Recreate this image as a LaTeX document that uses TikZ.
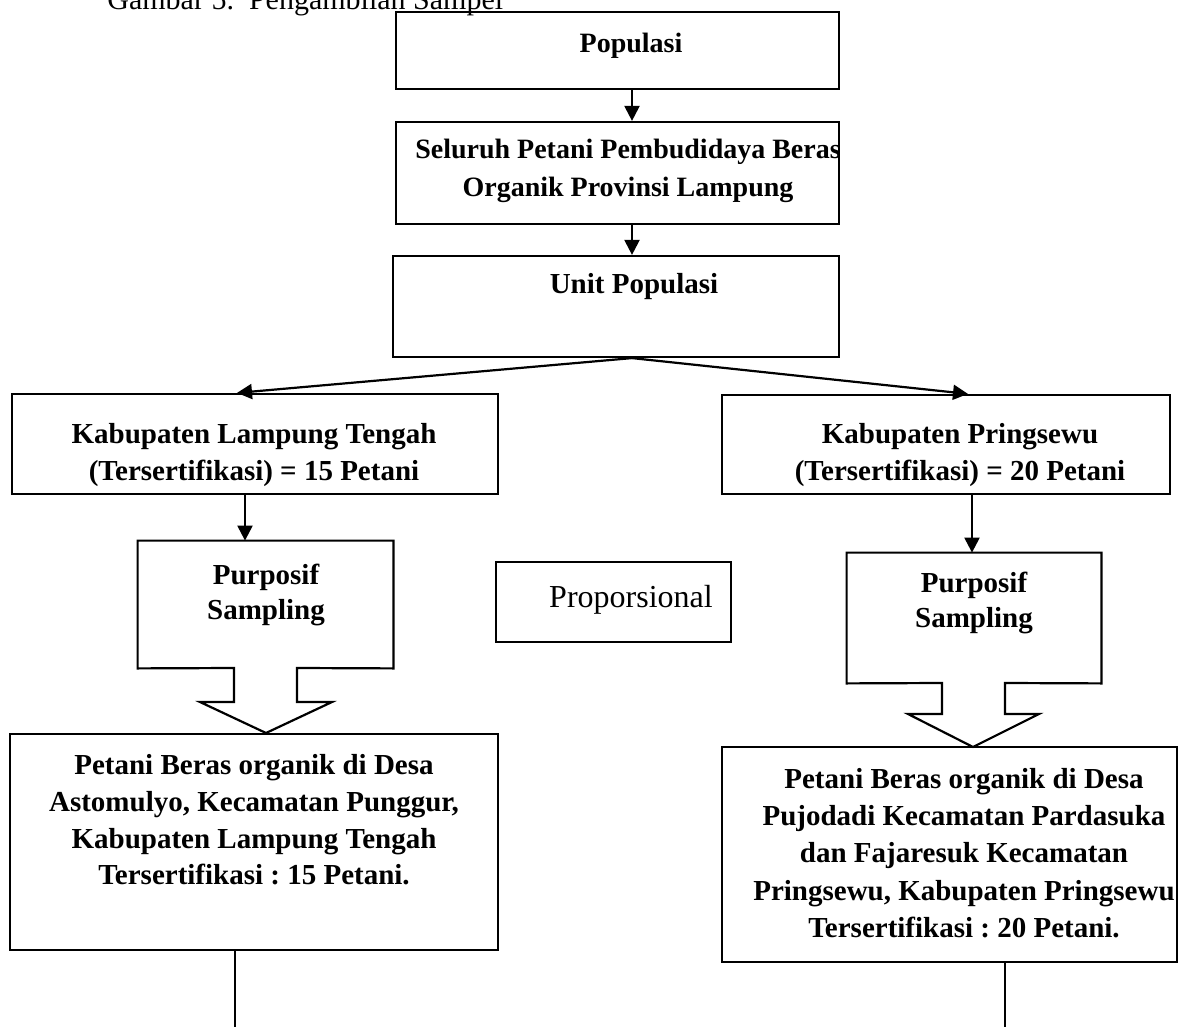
\documentclass[tikz,border=0pt]{standalone}
\usepackage{fontspec}
\setmainfont{Liberation Serif}
\usetikzlibrary{arrows.meta,positioning}
\frenchspacing

\tikzset{
  box/.style={draw, line width=1.1pt, inner sep=0pt},
  shade/.style={draw=none, inner sep=0pt},
  txt/.style={font=\fontsize{14.5}{18}\selectfont\bfseries, align=center, inner sep=0pt},
  arr/.style={line width=1.1pt, -{Triangle[length=7.5pt,width=7.5pt]}},
}

\begin{document}
\begin{tikzpicture}[x=0.5pt, y=-0.5pt]
\useasboundingbox (0,0) rectangle (1199,1027);
\clip (0,0) rectangle (1199,1027);

\coordinate (spine) at (632,0);
\coordinate (bot) at (0,1040);

% caption, cut at the top
\node[anchor=base west, inner sep=0pt, font=\fontsize{15}{18}\selectfont] (caption) at (107,10) {Gambar 5.\ \ Pengambilan Sampel};

% upper column
\node[box, minimum width=221.5pt, minimum height=38.5pt] (pop) at (617.5,50.5) {};
\node[txt, font=\fontsize{14}{18}\selectfont\bfseries] (pop-t) at (631,45.5) {Populasi};

\node[box, minimum width=221.5pt, minimum height=51pt] (seluruh) at (617.5,173) {};
\node[txt, font=\fontsize{14}{19}\selectfont\bfseries] (seluruh-t) at (628,171) {Seluruh Petani Pembudidaya Beras\\Organik Provinsi Lampung};

\node[box, minimum width=223pt, minimum height=50.5pt] (unit) at (616,306.5) {};
\node[txt] (unit-t) at (634,286.5) {Unit Populasi};

\draw[arr] (pop.south -| spine) -- (seluruh.north -| spine);
\draw[arr] (seluruh.south -| spine) -- (unit.north -| spine);

% kabupaten
\node[box, minimum width=243pt, minimum height=50pt] (kablt) at (255,444) {};
\node[txt, font=\fontsize{14.5}{18.5}\selectfont\bfseries] (kablt-t) at (254,455) {Kabupaten Lampung Tengah\\(Tersertifikasi) = 15 Petani};

\node[box, minimum width=224pt, minimum height=49.5pt] (kabps) at (946,444.5) {};
\node[txt, font=\fontsize{14.5}{18.5}\selectfont\bfseries] (kabps-t) at (960,455) {Kabupaten Pringsewu\\(Tersertifikasi) = 20 Petani};

\draw[arr] (unit.south -| spine) -- ([xshift=-9pt]kablt.north);
\draw[arr] (unit.south -| spine) -- ([xshift=11pt]kabps.north);

% purposif sampling
\node[shade, minimum width=127.5pt, minimum height=63.5pt] (purl) at (265.5,604.5) {};
\draw[line width=1.1pt, line join=miter] (purl.south west) -- (purl.north west) -- (purl.north east) -- (purl.south east)
  -- (297,668) -- (297,702) -- (332,702) -- (266,733) -- (200,702) -- (234,702) -- (234,668) -- cycle;
\node[txt, font=\fontsize{14.5}{17.5}\selectfont\bfseries] (purl-t) at (266,595) {Purposif\\Sampling};

\node[shade, minimum width=127pt, minimum height=65pt] (purr) at (974,618) {};
\draw[line width=1.1pt, line join=miter] (purr.south west) -- (purr.north west) -- (purr.north east) -- (purr.south east)
  -- (1005,683) -- (1005,714) -- (1039,714) -- (973,747) -- (908,714) -- (942,714) -- (942,683) -- cycle;
\node[txt, font=\fontsize{14.5}{17.5}\selectfont\bfseries] (purr-t) at (974,603) {Purposif\\Sampling};

\draw[arr] ([xshift=-5pt]kablt.south) -- ([xshift=-5pt]kablt.south |- purl.north);
\draw[arr] ([xshift=13pt]kabps.south) -- ([xshift=13pt]kabps.south |- purr.north);

\node[box, minimum width=117.5pt, minimum height=40pt] (prop) at (613.5,602) {};
\node[inner sep=0pt, font=\fontsize{16}{19}\selectfont] (prop-t) at (631,600) {Proporsional};

% desa
\node[box, minimum width=244pt, minimum height=108pt] (desal) at (254,842) {};
\node[txt, font=\fontsize{14.5}{18.3}\selectfont\bfseries] (desal-t) at (254,820) {Petani Beras organik di Desa\\Astomulyo, Kecamatan Punggur,\\Kabupaten Lampung Tengah\\Tersertifikasi : 15 Petani.};

\node[box, minimum width=227.5pt, minimum height=107.5pt] (desar) at (949.5,854.5) {};
\node[txt, font=\fontsize{14.5}{18.6}\selectfont\bfseries] (desar-t) at (964,853) {Petani Beras organik di Desa\\Pujodadi Kecamatan Pardasuka\\dan Fajaresuk Kecamatan\\Pringsewu, Kabupaten Pringsewu\\Tersertifikasi : 20 Petani.};

\draw[line width=1.1pt] ([xshift=-9.5pt]desal.south) -- ([xshift=-9.5pt]desal.south |- bot);
\draw[line width=1.1pt] ([xshift=27.75pt]desar.south) -- ([xshift=27.75pt]desar.south |- bot);

\end{tikzpicture}
\end{document}
